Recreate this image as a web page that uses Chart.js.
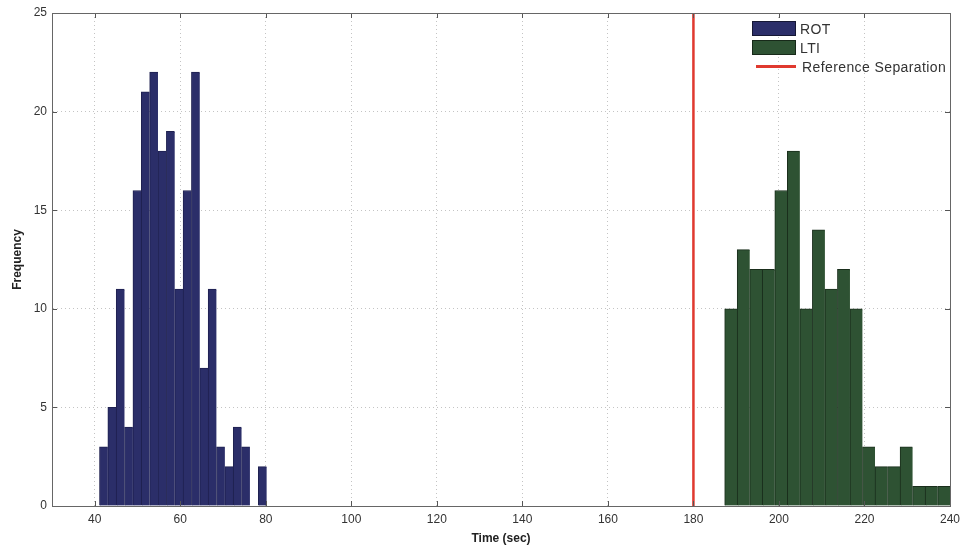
<!DOCTYPE html>
<html><head><meta charset="utf-8">
<script src="https://cdn.jsdelivr.net/npm/chart.js@4.4.1/dist/chart.umd.min.js"></script>
<style>
html,body{margin:0;padding:0;background:#fff;}
#wrap{position:relative;width:968px;height:548px;}
#legend{position:absolute;left:752px;top:19px;font-family:"Liberation Sans",Arial,sans-serif;font-size:14px;letter-spacing:0.4px;color:#333;}
.row{display:flex;align-items:center;height:19px;white-space:nowrap;}
.sw{width:44px;height:15px;margin-right:4px;box-sizing:border-box;}
.ln{width:40px;height:3px;margin:0 6px 0 4px;}
</style></head><body>
<div id="wrap"><canvas id="c" width="968" height="548"></canvas><div id="legend"></div></div>
<script>
// ---- data ----
const rotCenters = [42.08, 44.03, 45.99, 47.94, 49.90, 51.85, 53.81, 55.76, 57.72, 59.67, 61.63, 63.58, 65.54, 67.49, 69.45, 71.40, 73.36, 75.31, 77.27, 79.22];
const rotCounts  = [3, 5, 11, 4, 16, 21, 22, 18, 19, 11, 16, 22, 7, 11, 3, 2, 4, 3, 0, 2];
const ltiCenters = [188.77, 191.70, 194.63, 197.56, 200.49, 203.42, 206.35, 209.28, 212.21, 215.14, 218.07, 221.00, 223.93, 226.86, 229.79, 232.72, 235.65, 238.58];
const ltiCounts  = [10, 13, 12, 12, 16, 18, 10, 14, 11, 12, 10, 3, 2, 2, 3, 1, 1, 1];
const refSeparation = 180;
const xTicks = [40, 60, 80, 100, 120, 140, 160, 180, 200, 220, 240];
const yTicks = [0, 5, 10, 15, 20, 25];
const seriesNames = ['ROT', 'LTI', 'Reference Separation'];
const xTitle = 'Time (sec)';
const yTitle = 'Frequency';

const rotColor = '#2b2e69';
const ltiColor = '#2e5233';
const refColor = '#e0392f';
const fontFam = '"Liberation Sans", Arial, Helvetica, sans-serif';

const boxAndTicks = {
  id: 'boxAndTicks',
  afterDatasetsDraw(chart) {
    const {ctx, chartArea: a, scales} = chart;
    ctx.save();
    ctx.strokeStyle = '#555';
    ctx.lineWidth = 1;
    ctx.beginPath();
    xTicks.forEach(v => {
      const px = Math.round(scales.x.getPixelForValue(v)) + 0.5;
      ctx.moveTo(px, a.bottom); ctx.lineTo(px, a.bottom - 5);
      ctx.moveTo(px, a.top); ctx.lineTo(px, a.top + 5);
    });
    yTicks.forEach(v => {
      const py = Math.round(scales.y.getPixelForValue(v)) + 0.5;
      ctx.moveTo(a.left, py); ctx.lineTo(a.left + 5, py);
      ctx.moveTo(a.right, py); ctx.lineTo(a.right - 5, py);
    });
    ctx.stroke();
    ctx.strokeStyle = '#666';
    ctx.strokeRect(Math.round(a.left) + 0.5, Math.round(a.top) + 0.5, Math.round(a.right - a.left), Math.round(a.bottom - a.top));
    ctx.restore();
  }
};

new Chart(document.getElementById('c'), {
  type: 'bar',
  data: {
    datasets: [
      {
        label: seriesNames[0],
        data: rotCenters.map((x, i) => ({x, y: rotCounts[i]})),
        xAxisID: 'x',
        backgroundColor: rotColor,
        borderColor: '#1f2150',
        borderWidth: {left: 1, top: 1, right: 0, bottom: 0},
        borderSkipped: false,
        barPercentage: 1, categoryPercentage: 1,
        grouped: false,
        order: 2
      },
      {
        label: seriesNames[1],
        data: ltiCenters.map((x, i) => ({x, y: ltiCounts[i]})),
        xAxisID: 'x2',
        backgroundColor: ltiColor,
        borderColor: '#1a2e1c',
        borderWidth: {left: 1, top: 1, right: 0, bottom: 0},
        borderSkipped: false,
        barPercentage: 1, categoryPercentage: 1,
        grouped: false,
        order: 2
      },
      {
        type: 'line',
        label: seriesNames[2],
        data: [{x: refSeparation, y: yTicks[0]}, {x: refSeparation, y: yTicks[yTicks.length - 1]}],
        xAxisID: 'x',
        borderColor: refColor,
        borderWidth: 2.5,
        pointRadius: 0,
        fill: false,
        order: 0
      }
    ]
  },
  options: {
    responsive: false,
    animation: false,
    devicePixelRatio: 1,
    layout: {padding: {top: 13, right: 18, left: 0, bottom: 0}},
    plugins: {legend: {display: false}, tooltip: {enabled: false}},
    scales: {
      x: {
        type: 'linear', min: 30, max: 240, position: 'bottom', offset: false,
        afterBuildTicks: s => { s.ticks = xTicks.map(v => ({value: v})); },
        afterFit: s => { s.height = 42; },
        ticks: {font: {family: fontFam, size: 12}, color: '#333', padding: 6, maxRotation: 0, autoSkip: false},
        grid: {color: '#c4c4c4', lineWidth: 1, drawTicks: false, offset: false},
        border: {display: true, color: '#666', width: 1, dash: [1, 3]},
        title: {display: true, text: xTitle, font: {family: fontFam, size: 12, weight: 'bold'}, color: '#222', padding: {top: 2, bottom: 2}}
      },
      x2: {
        type: 'linear', min: 30, max: 240, display: false, offset: false,
        grid: {offset: false}
      },
      y: {
        min: 0, max: 25,
        afterBuildTicks: s => { s.ticks = yTicks.map(v => ({value: v})); },
        afterFit: s => { s.width = 52; },
        ticks: {font: {family: fontFam, size: 12}, color: '#333', padding: 5},
        grid: {color: '#c4c4c4', lineWidth: 1, drawTicks: false},
        border: {display: true, color: '#666', width: 1, dash: [1, 3]},
        title: {display: true, text: yTitle, font: {family: fontFam, size: 12, weight: 'bold'}, color: '#222', padding: {top: 10, bottom: 0}}
      }
    }
  },
  plugins: [boxAndTicks]
});

// legend (HTML text)
const legendEl = document.getElementById('legend');
const swatches = [rotColor, ltiColor, refColor];
seriesNames.forEach((name, i) => {
  const row = document.createElement('div');
  row.className = 'row';
  const sw = document.createElement('div');
  if (i < 2) { sw.className = 'sw'; sw.style.background = swatches[i]; sw.style.border = '1px solid rgba(0,0,0,0.5)'; }
  else { sw.className = 'ln'; sw.style.background = swatches[i]; }
  const t = document.createElement('span');
  t.textContent = name;
  row.appendChild(sw); row.appendChild(t);
  legendEl.appendChild(row);
});
</script>
</body></html>
